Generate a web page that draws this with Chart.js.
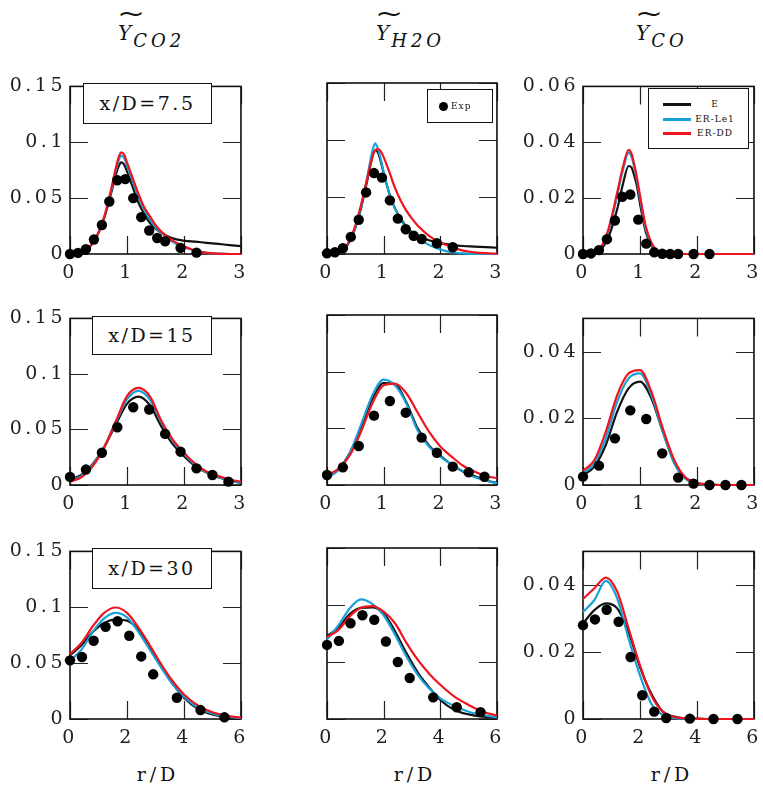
<!DOCTYPE html>
<html>
<head>
<meta charset="utf-8">
<script src="https://cdn.jsdelivr.net/npm/chart.js@4.4.1/dist/chart.umd.min.js"></script>
<style>
body { margin: 0; background: #fff; width: 763px; height: 786px; position: relative; overflow: hidden; font-family: 'DejaVu Serif', serif; color: #111; }
canvas { position: absolute; }
.ttl { position: absolute; top: 23px; font: italic 20px 'DejaVu Serif', serif; line-height: 20px; letter-spacing: 2px; white-space: nowrap; }
.ttl .sub { position: relative; top: 7px; font-size: 18px; letter-spacing: 4px; }
.ttl .tilde { position: absolute; left: -1px; top: -19px; font-style: normal; font-size: 24px; transform: scaleX(1.4); transform-origin: left center; }
.xlab { position: absolute; top: 763px; width: 120px; text-align: center; font-size: 19px; letter-spacing: 4px; }
.pos { position: absolute; box-sizing: border-box; border: 1.5px solid #111; background: #fff; font-size: 19px; letter-spacing: 2.5px; text-align: center; }
.leg { position: absolute; box-sizing: border-box; border: 1.5px solid #111; background: #fff; }
.leg .txt { position: absolute; font-size: 9px; letter-spacing: 1px; line-height: 10px; }
.leg .ln { position: absolute; height: 3px; width: 28px; }
</style>
</head>
<body>

<div class="ttl" style="left:118px"><span class="tilde">~</span>Y<span class="sub">CO2</span></div>
<div class="ttl" style="left:376px"><span class="tilde">~</span>Y<span class="sub">H2O</span></div>
<div class="ttl" style="left:636px"><span class="tilde">~</span>Y<span class="sub">CO</span></div>

<canvas id="c00"></canvas><canvas id="c01"></canvas><canvas id="c02"></canvas>
<canvas id="c10"></canvas><canvas id="c11"></canvas><canvas id="c12"></canvas>
<canvas id="c20"></canvas><canvas id="c21"></canvas><canvas id="c22"></canvas>

<div class="pos" style="left:83px;top:83px;width:129px;height:41px;line-height:38px">x/D=7.5</div>
<div class="pos" style="left:92px;top:316px;width:120px;height:39px;line-height:36px">x/D=15</div>
<div class="pos" style="left:92px;top:548px;width:120px;height:41px;line-height:38px">x/D=30</div>

<div class="leg" style="left:427px;top:89px;width:66px;height:34px">
  <div style="position:absolute;left:11px;top:12px;width:9px;height:9px;border-radius:50%;background:#000"></div>
  <div class="txt" style="left:23px;top:11px">Exp</div>
</div>
<div class="leg" style="left:648px;top:88px;width:101px;height:61px">
  <div class="ln" style="left:14px;top:14px;background:#111"></div>
  <div class="ln" style="left:14px;top:29px;background:#18a0d8"></div>
  <div class="ln" style="left:14px;top:43px;background:#f0141e"></div>
  <div class="txt" style="left:46px;top:10px;width:40px;text-align:center">E</div>
  <div class="txt" style="left:46px;top:25px;width:40px;text-align:center">ER-Le1</div>
  <div class="txt" style="left:46px;top:39px;width:40px;text-align:center">ER-DD</div>
</div>

<div class="xlab" style="left:98px">r/D</div>
<div class="xlab" style="left:355px">r/D</div>
<div class="xlab" style="left:612px">r/D</div>

<script>
// radial positions
const rExp75 = [0, 0.14, 0.28, 0.42, 0.56, 0.69, 0.83, 0.97, 1.11, 1.25, 1.39, 1.53, 1.67, 1.94, 2.22];
const rExp15 = [0, 0.28, 0.56, 0.83, 1.11, 1.39, 1.67, 1.94, 2.22, 2.5, 2.78];
const rExp30 = [0, 0.42, 0.83, 1.25, 1.67, 2.08, 2.5, 2.92, 3.75, 4.58, 5.42];
const rSim75 = [0, 0.2, 0.3, 0.4, 0.5, 0.6, 0.7, 0.8, 0.85, 0.9, 0.95, 1.0, 1.1, 1.2, 1.3, 1.4, 1.5, 1.6, 1.8, 2.0, 2.2, 2.4, 2.6, 2.8, 3.0];
const rSim15 = [0, 0.2, 0.4, 0.6, 0.8, 1.0, 1.2, 1.4, 1.6, 1.8, 2.0, 2.2, 2.4, 2.6, 2.8, 3.0];
const rSim30 = [0, 0.4, 0.8, 1.2, 1.6, 2.0, 2.4, 2.8, 3.2, 3.6, 4.0, 4.5, 5.0, 5.5, 6.0];

// x/D = 7.5
const co2_75_exp = [0, 0.001, 0.0044, 0.013, 0.026, 0.047, 0.066, 0.067, 0.050, 0.033, 0.021, 0.0143, 0.0114, 0.0055, 0.0012];
const co2_75_E   = [0, 0.001, 0.004, 0.010, 0.019, 0.032, 0.050, 0.070, 0.078, 0.082, 0.080, 0.074, 0.060, 0.046, 0.036, 0.028, 0.023, 0.019, 0.014, 0.012, 0.011, 0.010, 0.009, 0.008, 0.007];
const co2_75_Le1 = [0, 0.001, 0.004, 0.010, 0.019, 0.033, 0.052, 0.074, 0.083, 0.088, 0.086, 0.079, 0.065, 0.051, 0.040, 0.031, 0.024, 0.019, 0.011, 0.006, 0.003, 0.001, 0.0003, 0, 0];
const co2_75_DD  = [0, 0.001, 0.004, 0.010, 0.019, 0.033, 0.053, 0.076, 0.086, 0.091, 0.089, 0.082, 0.068, 0.054, 0.042, 0.034, 0.026, 0.020, 0.012, 0.007, 0.003, 0.001, 0.0003, 0, 0];

const h2o_75_exp = [0.0006, 0.0015, 0.005, 0.015, 0.030, 0.054, 0.071, 0.067, 0.047, 0.031, 0.0217, 0.016, 0.0132, 0.0094, 0.0059];
const h2o_75_E   = [0, 0.001, 0.004, 0.011, 0.023, 0.040, 0.062, 0.085, 0.091, 0.089, 0.081, 0.071, 0.053, 0.040, 0.031, 0.024, 0.019, 0.016, 0.012, 0.0095, 0.008, 0.007, 0.0065, 0.006, 0.0055];
const h2o_75_Le1 = [0, 0.001, 0.004, 0.011, 0.023, 0.041, 0.065, 0.090, 0.097, 0.092, 0.083, 0.072, 0.053, 0.040, 0.030, 0.023, 0.018, 0.014, 0.008, 0.004, 0.0015, 0.0005, 0, 0, 0];
const h2o_75_DD  = [0, 0.001, 0.004, 0.012, 0.025, 0.043, 0.064, 0.085, 0.091, 0.092, 0.090, 0.085, 0.072, 0.058, 0.047, 0.038, 0.031, 0.025, 0.016, 0.010, 0.006, 0.003, 0.0015, 0.0007, 0.0003];

const co_75_exp = [0, 0.0002, 0.0014, 0.0053, 0.012, 0.0205, 0.0213, 0.0123, 0.0037, 0.0006, 0.0001, 0, 0, 0, 0];
const co_75_E   = [0, 0, 0.0015, 0.004, 0.009, 0.016, 0.025, 0.0315, 0.031, 0.028, 0.024, 0.018, 0.008, 0.003, 0.0008, 0.0002, 0, 0, 0, 0, 0, 0, 0, 0, 0];
const co_75_Le1 = [0, 0.0003, 0.002, 0.0055, 0.012, 0.021, 0.030, 0.0363, 0.035, 0.031, 0.026, 0.020, 0.009, 0.0035, 0.001, 0.0002, 0, 0, 0, 0, 0, 0, 0, 0, 0];
const co_75_DD  = [0, 0.0003, 0.002, 0.006, 0.013, 0.022, 0.031, 0.0373, 0.036, 0.032, 0.027, 0.021, 0.010, 0.004, 0.0012, 0.0003, 0, 0, 0, 0, 0, 0, 0, 0, 0];

// x/D = 15
const co2_15_exp = [0.0073, 0.0139, 0.029, 0.052, 0.070, 0.068, 0.046, 0.030, 0.015, 0.009, 0.003];
const co2_15_E   = [0.005, 0.009, 0.019, 0.034, 0.054, 0.073, 0.0795, 0.072, 0.053, 0.037, 0.026, 0.017, 0.011, 0.007, 0.004, 0.002];
const co2_15_Le1 = [0.004, 0.008, 0.018, 0.034, 0.056, 0.077, 0.0848, 0.077, 0.057, 0.040, 0.028, 0.018, 0.011, 0.007, 0.004, 0.002];
const co2_15_DD  = [0.003, 0.007, 0.017, 0.034, 0.057, 0.080, 0.0874, 0.080, 0.058, 0.041, 0.029, 0.019, 0.012, 0.008, 0.005, 0.003];

const h2o_15_exp = [0.0088, 0.0156, 0.0344, 0.0612, 0.0741, 0.0638, 0.0418, 0.0285, 0.0162, 0.0112, 0.0073];
const h2o_15_E   = [0.0075, 0.014, 0.028, 0.051, 0.076, 0.090, 0.089, 0.073, 0.050, 0.035, 0.026, 0.018, 0.012, 0.008, 0.004, 0.002];
const h2o_15_Le1 = [0.006, 0.013, 0.028, 0.053, 0.079, 0.093, 0.088, 0.072, 0.048, 0.034, 0.025, 0.018, 0.012, 0.007, 0.004, 0.0015];
const h2o_15_DD  = [0.009, 0.014, 0.026, 0.047, 0.072, 0.088, 0.0895, 0.081, 0.064, 0.047, 0.034, 0.025, 0.017, 0.012, 0.008, 0.006];

const co_15_exp = [0.0025, 0.0058, 0.014, 0.0224, 0.0198, 0.0095, 0.0022, 0.0004, 0, 0, 0];
const co_15_E   = [0.003, 0.0055, 0.012, 0.022, 0.029, 0.031, 0.026, 0.016, 0.007, 0.0022, 0.0006, 0.0002, 0, 0, 0, 0];
const co_15_Le1 = [0.0035, 0.0065, 0.014, 0.025, 0.032, 0.0335, 0.027, 0.016, 0.0065, 0.0018, 0.0005, 0.0001, 0, 0, 0, 0];
const co_15_DD  = [0.0042, 0.0075, 0.016, 0.027, 0.0335, 0.0345, 0.028, 0.017, 0.0075, 0.0022, 0.0006, 0.0002, 0, 0, 0, 0];

// x/D = 30
const co2_30_exp = [0.0525, 0.0555, 0.070, 0.0825, 0.0875, 0.0745, 0.056, 0.040, 0.019, 0.008, 0.0015];
const co2_30_E   = [0.057, 0.066, 0.078, 0.086, 0.089, 0.088, 0.080, 0.065, 0.048, 0.032, 0.019, 0.009, 0.004, 0.0015, 0.0005];
const co2_30_Le1 = [0.052, 0.062, 0.078, 0.090, 0.095, 0.091, 0.078, 0.062, 0.046, 0.031, 0.020, 0.010, 0.005, 0.002, 0.0008];
const co2_30_DD  = [0.058, 0.068, 0.083, 0.095, 0.0998, 0.095, 0.082, 0.066, 0.049, 0.034, 0.022, 0.012, 0.006, 0.003, 0.0012];

const h2o_30_exp = [0.065, 0.0685, 0.084, 0.091, 0.087, 0.068, 0.050, 0.036, 0.019, 0.0103, 0.006];
const h2o_30_E   = [0.073, 0.080, 0.092, 0.0975, 0.098, 0.0927, 0.077, 0.058, 0.041, 0.028, 0.0167, 0.0079, 0.004, 0.002, 0.001];
const h2o_30_Le1 = [0.070, 0.082, 0.097, 0.105, 0.101, 0.091, 0.074, 0.055, 0.039, 0.027, 0.018, 0.0114, 0.0064, 0.0035, 0.0015];
const h2o_30_DD  = [0.072, 0.078, 0.090, 0.0975, 0.099, 0.0941, 0.084, 0.067, 0.052, 0.040, 0.030, 0.0196, 0.0123, 0.0064, 0.003];

const co_30_exp = [0.028, 0.0297, 0.0326, 0.029, 0.0185, 0.0071, 0.0022, 0.0003, 0.0001, 0, 0];
const co_30_E   = [0.0285, 0.0325, 0.0345, 0.033, 0.026, 0.0155, 0.0075, 0.0022, 0.0007, 0.0002, 0.0001, 0, 0, 0, 0];
const co_30_Le1 = [0.0319, 0.0355, 0.0412, 0.036, 0.024, 0.013, 0.0045, 0.0012, 0.0003, 0.0001, 0, 0, 0, 0, 0];
const co_30_DD  = [0.0358, 0.039, 0.0422, 0.038, 0.027, 0.016, 0.007, 0.0022, 0.0006, 0.0002, 0.0001, 0, 0, 0, 0];

const colE = '#111111', colLe1 = '#18a0d8', colDD = '#f0141e';

// plot-area placement (page pixels)
const plotLeft = [70, 327, 583], plotW = [173, 172, 173];
const plotTop = [83, 315, 548], plotH = [171, 170, 171];
const AXW = 70, PADT = 12, PADR = 12, AXH = 35;

// inward ticks on all four sides + frame
const framePlugin = {
    id: 'frame',
    beforeDraw(chart) { chart.ctx.letterSpacing = '3.5px'; },
    beforeDatasetsDraw(chart) {
        const { ctx, chartArea: a, scales: { x, y } } = chart;
        ctx.save();
        ctx.strokeStyle = '#222';
        ctx.lineWidth = 1.2;
        ctx.beginPath();
        x.ticks.forEach(t => {
            const px = Math.round(x.getPixelForValue(t.value)) + 0.5;
            ctx.moveTo(px, a.bottom); ctx.lineTo(px, a.bottom - 18);
            ctx.moveTo(px, a.top); ctx.lineTo(px, a.top + 18);
        });
        y.ticks.forEach(t => {
            const py = Math.round(y.getPixelForValue(t.value)) + 0.5;
            ctx.moveTo(a.left, py); ctx.lineTo(a.left + 18, py);
            ctx.moveTo(a.right, py); ctx.lineTo(a.right - 18, py);
        });
        ctx.stroke();
        ctx.lineWidth = 1.6;
        ctx.strokeStyle = '#111';
        ctx.strokeRect(a.left, a.top, a.right - a.left, a.bottom - a.top);
        ctx.restore();
    }
};

function pts(xs, ys) {
    return xs.map((v, i) => ({ x: v, y: ys[i] }));
}

function simLine(label, xs, ys, color, order) {
    return {
        label, data: pts(xs, ys), borderColor: color, backgroundColor: color,
        borderWidth: 2.2, pointRadius: 0, cubicInterpolationMode: 'monotone',
        showLine: true, clip: false, order
    };
}

function makePanel(id, row, col, p) {
    const cv = document.getElementById(id);
    cv.width = plotW[col] + AXW + PADR;
    cv.height = plotH[row] + PADT + AXH;
    cv.style.left = (plotLeft[col] - AXW) + 'px';
    cv.style.top = (plotTop[row] - PADT) + 'px';

    const tickFont = { family: 'DejaVu Serif', size: 19 };
    return new Chart(cv, {
        type: 'scatter',
        data: {
            datasets: [
                { label: 'Exp', data: pts(p.rExp, p.exp), showLine: false, pointRadius: 5.2,
                  pointBackgroundColor: '#000', pointBorderColor: '#000', pointBorderWidth: 0, clip: false, order: 0 },
                simLine('ER-DD', p.rSim, p.dd, colDD, 1),
                simLine('ER-Le1', p.rSim, p.le1, colLe1, 2),
                simLine('E', p.rSim, p.e, colE, 3)
            ]
        },
        options: {
            responsive: false,
            devicePixelRatio: 1,
            animation: false,
            events: [],
            layout: { padding: { top: PADT, right: PADR, left: 0, bottom: 0 } },
            plugins: { legend: { display: false }, tooltip: { enabled: false } },
            scales: {
                x: {
                    type: 'linear', min: 0, max: p.xMax,
                    grid: { display: false, drawTicks: false },
                    border: { display: false },
                    ticks: { stepSize: p.xStep, font: tickFont, color: '#222', padding: 8, maxRotation: 0 },
                    afterFit: s => { s.height = AXH; }
                },
                y: {
                    min: 0, max: p.yMax,
                    grid: { display: false, drawTicks: false },
                    border: { display: false },
                    ticks: { stepSize: p.yStep, includeBounds: false, display: p.yLabels,
                             font: tickFont, color: '#222', padding: 4,
                             callback: v => String(+v.toFixed(4)) },
                    afterFit: s => { s.width = AXW; }
                }
            }
        },
        plugins: [framePlugin]
    });
}

const row75 = { rExp: rExp75, rSim: rSim75, xMax: 3, xStep: 1 };
const row15 = { rExp: rExp15, rSim: rSim15, xMax: 3, xStep: 1 };
const row30 = { rExp: rExp30, rSim: rSim30, xMax: 6, xStep: 2 };

makePanel('c00', 0, 0, { ...row75, exp: co2_75_exp, e: co2_75_E, le1: co2_75_Le1, dd: co2_75_DD, yMax: 0.15, yStep: 0.05, yLabels: true });
makePanel('c01', 0, 1, { ...row75, exp: h2o_75_exp, e: h2o_75_E, le1: h2o_75_Le1, dd: h2o_75_DD, yMax: 0.15, yStep: 0.05, yLabels: false });
makePanel('c02', 0, 2, { ...row75, exp: co_75_exp, e: co_75_E, le1: co_75_Le1, dd: co_75_DD, yMax: 0.06, yStep: 0.02, yLabels: true });

makePanel('c10', 1, 0, { ...row15, exp: co2_15_exp, e: co2_15_E, le1: co2_15_Le1, dd: co2_15_DD, yMax: 0.15, yStep: 0.05, yLabels: true });
makePanel('c11', 1, 1, { ...row15, exp: h2o_15_exp, e: h2o_15_E, le1: h2o_15_Le1, dd: h2o_15_DD, yMax: 0.15, yStep: 0.05, yLabels: false });
makePanel('c12', 1, 2, { ...row15, exp: co_15_exp, e: co_15_E, le1: co_15_Le1, dd: co_15_DD, yMax: 0.05, yStep: 0.02, yLabels: true });

makePanel('c20', 2, 0, { ...row30, exp: co2_30_exp, e: co2_30_E, le1: co2_30_Le1, dd: co2_30_DD, yMax: 0.15, yStep: 0.05, yLabels: true });
makePanel('c21', 2, 1, { ...row30, exp: h2o_30_exp, e: h2o_30_E, le1: h2o_30_Le1, dd: h2o_30_DD, yMax: 0.15, yStep: 0.05, yLabels: false });
makePanel('c22', 2, 2, { ...row30, exp: co_30_exp, e: co_30_E, le1: co_30_Le1, dd: co_30_DD, yMax: 0.05, yStep: 0.02, yLabels: true });
</script>
</body>
</html>
